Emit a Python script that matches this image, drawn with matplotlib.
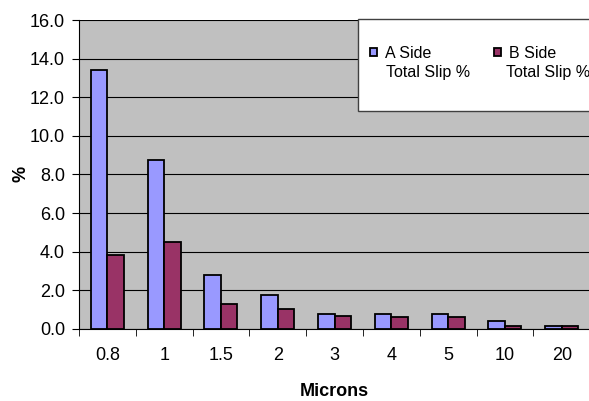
import numpy as np
import matplotlib.pyplot as plt
from matplotlib.patches import Rectangle

plt.rcParams["font.family"] = ["Liberation Sans", "DejaVu Sans"]

# chart data
categories = ["0.8", "1", "1.5", "2", "3", "4", "5", "10", "20"]
a_side = [13.4, 8.75, 2.8, 1.75, 0.78, 0.78, 0.78, 0.4, 0.14]
b_side = [3.8, 4.52, 1.3, 1.04, 0.66, 0.59, 0.59, 0.14, 0.14]
series_names = ["A Side", "B Side"]
series_sub = "Total Slip %"

fig = plt.figure(figsize=(5.89, 4.01), dpi=100)
ax = fig.add_axes([0.134, 0.18, 0.868, 0.77])
ax.set_facecolor("#C0C0C0")

x = np.arange(len(categories))
w = 0.29
ax.bar(x - w / 2, a_side, w, color="#9999FF", edgecolor="black", linewidth=1.3,
       label=series_names[0], zorder=3)
ax.bar(x + w / 2, b_side, w, color="#993366", edgecolor="black", linewidth=1.3,
       label=series_names[1], zorder=3)

ax.set_xlim(-0.5, len(categories) - 0.5)
ax.set_ylim(0, 16)
ax.set_yticks(np.arange(0, 16.1, 2))
ax.set_yticklabels([f"{v:.1f}" for v in np.arange(0, 16.1, 2)], fontsize=13)
ax.yaxis.grid(True, color="black", linewidth=0.8, zorder=1)
ax.set_axisbelow(True)

ax.set_xticks(x)
ax.set_xticklabels(categories, fontsize=13)
ax.set_xticks(np.arange(-0.5, len(categories), 1), minor=True)
ax.tick_params(axis="x", which="major", length=0, pad=13)
ax.tick_params(axis="x", which="minor", length=5, color="black")
ax.tick_params(axis="y", length=5, color="black", pad=5)

for s in ["top", "right"]:
    ax.spines[s].set_visible(False)
ax.spines["left"].set_color("black")
ax.spines["bottom"].set_color("black")

ax.set_xlabel("Microns", fontsize=13, fontweight="bold", labelpad=14)
ax.set_ylabel("%", fontsize=13, fontweight="bold", labelpad=0)

# legend box
fig.patches.append(Rectangle((358 / 589, 1 - 111 / 401), 240 / 589, 92 / 401,
                             transform=fig.transFigure, facecolor="white",
                             edgecolor="#404040", linewidth=1, zorder=5))
leg = fig.legend(loc="center left", bbox_to_anchor=(370 / 589, 1 - 53 / 401),
                 ncol=2, frameon=False, fontsize=11.5, handlelength=0.45,
                 handleheight=0.45, handletextpad=0.5, columnspacing=3.9,
                 borderpad=0, borderaxespad=0)
leg.set_zorder(6)
for xp in (386, 506):
    fig.text(xp / 589, 1 - 72 / 401, series_sub, fontsize=11.5, va="center",
             ha="left", zorder=7)

fig.savefig("out.png", dpi=100)
